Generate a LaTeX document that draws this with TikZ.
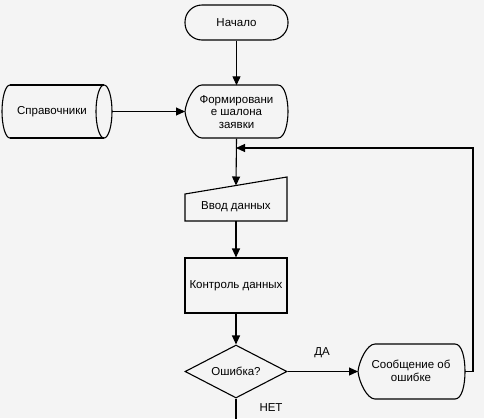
\documentclass[tikz,border=0pt]{standalone}
\usepackage{fontspec}
\setmainfont{Liberation Sans}
\usetikzlibrary{arrows.meta,shapes.geometric}
\definecolor{bg}{RGB}{244,244,244}
\tikzset{
  lbl/.style={font=\fontsize{11.5}{12.8}\selectfont, align=center, inner sep=0pt},
  shp/.style={draw=black, line width=1.1pt},
  conn/.style={line width=1.1pt, -{Triangle[length=9pt,width=8pt]}},
  plain/.style={line width=1.1pt}
}
\begin{document}
\begin{tikzpicture}[x=1pt,y=-1pt]
\fill[bg] (0,0) rectangle (484,418);
\useasboundingbox (0,0) rectangle (484,418);
% Start
\node[lbl, shp, minimum width=103, minimum height=35, rounded corners=17pt] (start) at (236.5,22.5) {Начало};
% Form template (display)
\draw[shp] (202,85) -- (278,85) .. controls (285,85) and (288,100) .. (288,111.5)
  .. controls (288,123) and (285,138) .. (278,138) -- (202,138)
  .. controls (194,138) and (186,122) .. (185,111.5)
  .. controls (186,101) and (194,85) .. (202,85) -- cycle;
\node[lbl, minimum width=103, minimum height=53] (form) at (236.5,112) {Формировани\\е шалона\\заявки};
\coordinate (formW) at (185,111.5);
% Stored data
\draw[shp] (10,85) -- (104,85);
\draw[shp] (10,138) -- (104,138);
\draw[shp] (10,85) arc[start angle=-90, end angle=-270, x radius=8, y radius=26.5];
\draw[shp] (104,111.5) ellipse[x radius=8, y radius=26.5];
\node[lbl] (spr) at (52,112) {Справочники};
\coordinate (sprE) at (112,111.5);
% Manual input
\draw[shp] (185,194) -- (287,177) -- (287,221) -- (185,221) -- cycle;
\node[lbl] (vvod) at (236,207) {Ввод данных};
\coordinate (vvodN) at (236,185.5);
\coordinate (vvodS) at (236,221);
% Control
\node[lbl, shp, minimum width=102, minimum height=55] (kontrol) at (236,285.5) {Контроль данных};
% Decision
\node[lbl, shp, shape=diamond, aspect=1.92, minimum width=102, minimum height=53] (err) at (236,371.5) {Ошибка?};
% Message (display)
\draw[shp] (375,344) -- (455,344) .. controls (462,344) and (465,358) .. (465,371.5)
  .. controls (465,385) and (462,399) .. (455,399) -- (375,399)
  .. controls (367,399) and (359,382) .. (358,371.5)
  .. controls (359,361) and (367,344) .. (375,344) -- cycle;
\node[lbl] (msg) at (411,371) {Сообщение об\\ошибке};
\coordinate (msgW) at (358,371.5);
\coordinate (msgE) at (465,371.5);
\coordinate (loopR) at (473,371.5);
\coordinate (loopT) at (473,148);
\coordinate (loopL) at (236,148);
\coordinate (exit) at (236,420);
% Labels
\node[lbl] (da) at (322,353) {ДА};
\node[lbl] (net) at (271,408) {НЕТ};
% Connectors
\draw[conn] (start.south) -- (form.north);
\draw[conn] (sprE) -- (formW);
\draw[conn] (form.south) -- (vvodN);
\draw[conn] (vvodS) -- (kontrol.north);
\draw[conn] (kontrol.south) -- (err.north);
\draw[conn] (err.east) -- (msgW);
\draw[conn] (msgE) -- (loopR) -- (loopT) -- (loopL);
\draw[plain] (err.south) -- (exit);
\end{tikzpicture}
\end{document}
